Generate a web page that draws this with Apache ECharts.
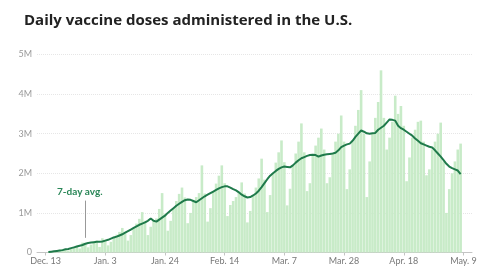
<!DOCTYPE html>
<html>
<head>
<meta charset="utf-8">
<script src="https://cdn.jsdelivr.net/npm/echarts@6/dist/echarts.min.js"></script>
<style>
	html, body { margin: 0; padding: 0; background: #fff; }
	#chart { width: 487px; height: 269px; }
</style>
</head>
<body>
<div id="chart"></div>
<script>
	// days counted from Dec. 13, 2020 (day 0)
	var tickDays = [0, 21, 42, 63, 84, 105, 126, 147];
	var tickLabels = ['Dec. 13', 'Jan. 3', 'Jan. 24', 'Feb. 14', 'Mar. 7', 'Mar. 28', 'Apr. 18', 'May. 9'];
	var yTicks = ['0', '1M', '2M', '3M', '4M', '5M'];
	var firstDay = 1;

	// daily doses, millions (Dec. 14 - May 8)
	var dailyDoses = [
		0.01, 0.02, 0.03, 0.05, 0.07, 0.09,
		0.08, 0.05, 0.09, 0.13, 0.17, 0.10, 0.25,
		0.24, 0.13, 0.20, 0.27, 0.30, 0.14, 0.36,
		0.32, 0.18, 0.27, 0.40, 0.45, 0.52, 0.62,
		0.52, 0.30, 0.44, 0.62, 0.73, 0.85, 1.02,
		0.80, 0.44, 0.65, 0.80, 0.86, 1.10, 1.50,
		0.98, 0.55, 0.80, 1.12, 1.30, 1.48, 1.64,
		1.39, 0.74, 1.00, 1.30, 1.40, 1.50, 2.20,
		1.49, 0.78, 1.12, 1.54, 1.74, 1.94, 2.20,
		1.75, 0.92, 1.20, 1.30, 1.40, 1.50, 1.77,
		1.49, 0.76, 1.05, 1.44, 1.64, 1.87, 2.37,
		1.84, 1.02, 1.45, 2.00, 2.27, 2.53, 2.83,
		2.28, 1.19, 1.61, 2.20, 2.50, 2.80, 3.26,
		2.53, 1.55, 1.75, 2.47, 2.70, 2.90, 3.13,
		2.60, 1.75, 1.90, 2.50, 2.80, 3.00, 3.46,
		2.80, 1.60, 2.10, 2.80, 3.20, 3.60, 4.10,
		3.00, 1.40, 2.30, 3.00, 3.40, 3.80, 4.60,
		3.40, 2.60, 2.90, 3.30, 3.96, 3.50, 3.70,
		3.20, 1.80, 2.40, 2.90, 3.10, 3.30, 3.33,
		2.80, 1.95, 2.10, 2.60, 2.80, 3.00, 3.28,
		2.30, 1.00, 1.60, 2.00, 2.30, 2.60, 2.75
	];

	// 7-day average, millions
	var avgDoses = [
		0.01, 0.02, 0.03, 0.04, 0.05, 0.06,
		0.08, 0.09, 0.11, 0.13, 0.15, 0.17, 0.19,
		0.22, 0.24, 0.25, 0.26, 0.27, 0.27, 0.28,
		0.30, 0.32, 0.35, 0.38, 0.40, 0.43, 0.46,
		0.50, 0.54, 0.58, 0.62, 0.66, 0.70, 0.73,
		0.76, 0.80, 0.86, 0.80, 0.78, 0.83, 0.88,
		0.93, 1.00, 1.06, 1.12, 1.18, 1.23, 1.28,
		1.32, 1.34, 1.33, 1.30, 1.27, 1.32, 1.37,
		1.42, 1.46, 1.50, 1.54, 1.58, 1.62, 1.65,
		1.67, 1.67, 1.64, 1.60, 1.57, 1.52, 1.46,
		1.42, 1.39, 1.40, 1.44, 1.49, 1.56, 1.65,
		1.75, 1.85, 1.94, 2.00, 2.06, 2.11, 2.15,
		2.17, 2.16, 2.15, 2.20, 2.27, 2.33, 2.38,
		2.41, 2.44, 2.46, 2.47, 2.46, 2.42, 2.45,
		2.47, 2.48, 2.49, 2.50, 2.52, 2.58, 2.66,
		2.70, 2.73, 2.75, 2.82, 2.92, 3.00, 3.08,
		3.05, 3.01, 3.00, 3.01, 3.02, 3.10, 3.15,
		3.20, 3.28, 3.36, 3.35, 3.33, 3.20, 3.14,
		3.10, 3.05, 3.00, 2.95, 2.88, 2.82, 2.76,
		2.73, 2.70, 2.67, 2.65, 2.58, 2.50, 2.42,
		2.33, 2.24, 2.17, 2.13, 2.10, 2.07, 1.98
	];

	var barData = [], lineData = [];
	for (var i = 0; i < dailyDoses.length; i++) {
		barData.push([firstDay + i, dailyDoses[i] * 1e6]);
		lineData.push([firstDay + i, avgDoses[i] * 1e6]);
	};

	var chart = echarts.init(document.getElementById('chart'));
	var option = {
		backgroundColor: '#fff',
		animation: false,
		title: {
			text: 'Daily vaccine doses administered in the U.S.',
			left: 19,
			top: 8,
			textStyle: {
				fontFamily: 'Open Sans',
				fontWeight: 'bold',
				fontSize: 15,
				color: '#222'
			}
		},
		grid: {
			left: 37,
			right: 15,
			top: 54.5,
			bottom: 16.5
		},
		xAxis: {
			type: 'value',
			min: -3,
			max: 150,
			splitLine: { show: false },
			axisLine: {
				show: true,
				lineStyle: { color: '#c4c4c4' }
			},
			axisTick: {
				show: true,
				customValues: tickDays,
				length: 3,
				lineStyle: { color: '#c4c4c4' }
			},
			axisLabel: {
				customValues: tickDays,
				color: '#777',
				fontFamily: 'Lato',
				fontSize: 9,
				margin: 4,
				formatter: function (v) {
					return tickLabels[tickDays.indexOf(v)];
				}
			}
		},
		yAxis: {
			type: 'value',
			min: 0,
			max: 5000000,
			interval: 1000000,
			axisLine: { show: false },
			axisTick: { show: false },
			axisLabel: {
				color: '#999',
				fontFamily: 'Lato',
				fontSize: 9,
				margin: 5,
				formatter: function (v) {
					return yTicks[Math.round(v / 1000000)];
				}
			},
			splitLine: {
				show: true,
				lineStyle: { color: '#e6e6e6', type: 'dotted' }
			}
		},
		series: [{
			type: 'bar',
			data: barData,
			barWidth: 2.6,
			itemStyle: { color: '#c8ebc8' },
			z: 1
		}, {
			type: 'line',
			data: lineData,
			symbol: 'none',
			lineStyle: { color: '#1f7a4b', width: 2 },
			z: 3,
			markLine: {
				silent: true,
				symbol: 'none',
				label: { show: false },
				lineStyle: { color: '#999', width: 1, type: 'solid' },
				data: [[{ coord: [14, 370000] }, { coord: [14, 1310000] }]]
			}
		}],
		graphic: [{
			type: 'text',
			left: 57,
			top: 187,
			style: {
				text: '7-day avg.',
				fill: '#2a8758',
				font: 'bold 10px Lato'
			}
		}]
	};
	chart.setOption(option);
</script>
</body>
</html>
